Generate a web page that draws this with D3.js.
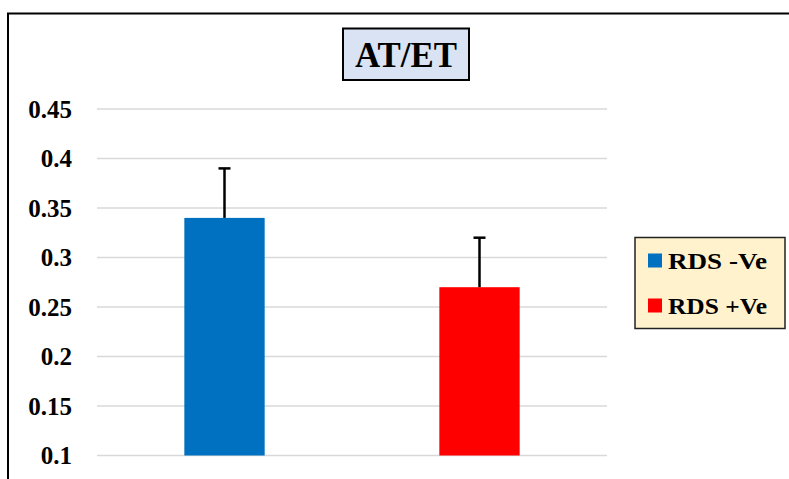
<!DOCTYPE html>
<html>
<head>
<meta charset="utf-8">
<script src="https://cdn.jsdelivr.net/npm/d3@7"></script>
<style>
  body { margin: 0; background: #fff; }
  text { font-family: 'Liberation Serif', 'Times New Roman', serif; font-weight: bold; }
</style>
</head>
<body>
<div id="chart"></div>
<script>
const groups = ['RDS -Ve', 'RDS +Ve'];
const means = [0.34, 0.27];
const errors = [0.05, 0.05];
const colors = ['#0070c0', '#ff0000'];
const yTicks = [0.1, 0.15, 0.2, 0.25, 0.3, 0.35, 0.4, 0.45];

const width = 789;
const height = 479;

const svg = d3.select('#chart')
  .append('svg')
  .attr('width', width)
  .attr('height', height)

// outer frame (runs off the right and bottom)
svg.append('rect')
  .attr('x', 8)
  .attr('y', 13.5)
  .attr('width', 800)
  .attr('height', 500)
  .attr('fill', 'none')
  .attr('stroke', '#000')
  .attr('stroke-width', 2)

const x = d3.scaleBand()
  .domain(groups)
  .range([97, 607])

const y = d3.scaleLinear()
  .domain([0.1, 0.45])
  .range([455.5, 109])

// gridlines
svg.append('g')
  .selectAll('line')
  .data(yTicks)
  .join('line')
  .attr('x1', 97)
  .attr('x2', 607)
  .attr('y1', d => y(d))
  .attr('y2', d => y(d))
  .attr('stroke', '#d9d9d9')
  .attr('stroke-width', 1.5)

// y labels
svg.append('g')
  .selectAll('text')
  .data(yTicks)
  .join('text')
  .attr('x', 72)
  .attr('y', d => y(d) + 8.5)
  .attr('text-anchor', 'end')
  .style('font-size', '25px')
  .text(d => d)

const barW = x.bandwidth() * 0.315;

svg.append('g')
  .selectAll('rect')
  .data(groups)
  .join('rect')
  .attr('x', d => x(d) + x.bandwidth() / 2 - barW / 2)
  .attr('y', (d, i) => y(means[i]))
  .attr('width', barW)
  .attr('height', (d, i) => y(0.1) - y(means[i]))
  .attr('fill', (d, i) => colors[i])

// error bars (upper only)
const err = svg.append('g')
  .attr('stroke', '#000')
  .attr('stroke-width', 2.5)
groups.forEach((g, i) => {
  const cx = x(g) + x.bandwidth() / 2;
  err.append('line')
    .attr('x1', cx).attr('x2', cx)
    .attr('y1', y(means[i])).attr('y2', y(means[i] + errors[i]))
  err.append('line')
    .attr('x1', cx - 6).attr('x2', cx + 6)
    .attr('y1', y(means[i] + errors[i])).attr('y2', y(means[i] + errors[i]))
})

// title box
svg.append('rect')
  .attr('x', 343)
  .attr('y', 28.5)
  .attr('width', 126)
  .attr('height', 51.5)
  .attr('fill', '#dae3f3')
  .attr('stroke', '#000')
  .attr('stroke-width', 2)
svg.append('text')
  .attr('x', 406)
  .attr('y', 67)
  .attr('text-anchor', 'middle')
  .attr('textLength', 102)
  .attr('lengthAdjust', 'spacingAndGlyphs')
  .style('font-size', '36px')
  .text('AT/ET')

// legend
const legend = svg.append('g')
legend.append('rect')
  .attr('x', 635)
  .attr('y', 237.5)
  .attr('width', 150)
  .attr('height', 91)
  .attr('fill', '#fff2cc')
  .attr('stroke', '#222')
  .attr('stroke-width', 1.5)
groups.forEach((g, i) => {
  legend.append('rect')
    .attr('x', 648)
    .attr('y', 253.5 + i * 45)
    .attr('width', 14)
    .attr('height', 14)
    .attr('fill', colors[i])
  legend.append('text')
    .attr('x', 668)
    .attr('y', 269 + i * 45)
    .attr('textLength', 99)
    .attr('lengthAdjust', 'spacingAndGlyphs')
    .style('font-size', '24px')
    .text(g)
})
</script>
</body>
</html>
